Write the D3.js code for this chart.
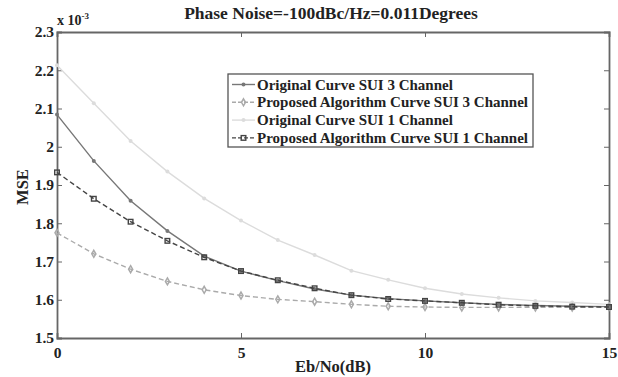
<!DOCTYPE html>
<html lang="en">
<head>
<meta charset="UTF-8">
<title>Phase Noise MSE</title>
<script src="https://cdn.jsdelivr.net/npm/d3@7"></script>
<style>
body { margin: 0; background: #fff; }
svg { display: block; font-family: "Liberation Serif", "DejaVu Serif", serif; font-weight: bold; }
</style>
</head>
<body>
<svg id="chart" width="618" height="377"></svg>
<script>
    // data (MSE in units of 1e-3)
    const ebNo = [0, 1, 2, 3, 4, 5, 6, 7, 8, 9, 10, 11, 12, 13, 14, 15];
    const origSui3 = [2.084, 1.963, 1.859, 1.780, 1.714, 1.675, 1.650, 1.628, 1.612, 1.603, 1.597, 1.592, 1.588, 1.585, 1.583, 1.582];
    const propSui3 = [1.775, 1.720, 1.680, 1.648, 1.626, 1.611, 1.601, 1.595, 1.588, 1.583, 1.581, 1.580, 1.580, 1.580, 1.580, 1.581];
    const origSui1 = [2.213, 2.114, 2.015, 1.935, 1.865, 1.807, 1.756, 1.717, 1.676, 1.652, 1.630, 1.615, 1.605, 1.597, 1.593, 1.588];
    const propSui1 = [1.933, 1.864, 1.804, 1.754, 1.711, 1.675, 1.651, 1.630, 1.612, 1.602, 1.597, 1.592, 1.587, 1.584, 1.582, 1.581];

    const seriesNames = [
        'Original Curve SUI 3 Channel',
        'Proposed Algorithm Curve SUI 3 Channel',
        'Original Curve SUI 1 Channel',
        'Proposed Algorithm Curve SUI 1 Channel'
    ];
    const xTicks = [0, 5, 10, 15];
    const yTicks = [1.5, 1.6, 1.7, 1.8, 1.9, 2, 2.1, 2.2, 2.3];

    const series = [
        { name: seriesNames[0], values: origSui3, color: '#777', dash: null, marker: 'dot' },
        { name: seriesNames[1], values: propSui3, color: '#aaa', dash: '5,3', marker: 'diamond' },
        { name: seriesNames[2], values: origSui1, color: '#dcdcdc', dash: null, marker: 'dot' },
        { name: seriesNames[3], values: propSui1, color: '#444', dash: '5,3', marker: 'square' }
    ];

    const margin = { left: 57, top: 32, right: 9, bottom: 39 };
    const width = 618, height = 377;
    const svg = d3.select('#chart');

    let x = d3.scaleLinear().domain([0, 15]).range([margin.left, width - margin.right]);
    let y = d3.scaleLinear().domain([1.5, 2.3]).range([height - margin.bottom, margin.top]);

    const axisColor = '#666';
    const textColor = '#222';

    // axes (ticks inward, box)
    let xAxis = svg.append('g')
        .attr('transform', 'translate(0,' + y(1.5) + ')')
        .call(d3.axisBottom(x).tickValues(xTicks).tickSize(-5).tickPadding(8).tickFormat(d3.format('d')));
    let xAxisTop = svg.append('g')
        .attr('transform', 'translate(0,' + y(2.3) + ')')
        .call(d3.axisTop(x).tickValues(xTicks).tickSize(-5).tickFormat(''));
    let yAxis = svg.append('g')
        .attr('transform', 'translate(' + x(0) + ',0)')
        .call(d3.axisLeft(y).tickValues(yTicks).tickSize(-5).tickPadding(3).tickFormat(d => d3.format('')(+d.toFixed(1))));
    let yAxisRight = svg.append('g')
        .attr('transform', 'translate(' + x(15) + ',0)')
        .call(d3.axisRight(y).tickValues(yTicks).tickSize(-5).tickFormat(''));

    [xAxis, xAxisTop, yAxis, yAxisRight].forEach(g => {
        g.select('.domain').attr('stroke', axisColor).attr('stroke-width', 1.8);
        g.selectAll('.tick line').attr('stroke', axisColor).attr('stroke-width', 1);
        g.selectAll('.tick text').attr('fill', textColor).attr('font-size', 15.5)
            .attr('font-family', '"Liberation Serif", serif').attr('font-weight', 'bold');
    });
    xAxis.selectAll('.tick text').attr('dy', '0.8em');

    // lines
    const line = d3.line().x((d, i) => x(ebNo[i])).y(d => y(d)).curve(d3.curveLinear);

    const drawMarker = (g, type, cx, cy, color) => {
        if (type === 'dot') {
            g.append('circle').attr('cx', cx).attr('cy', cy).attr('r', 2).attr('fill', color);
        } else if (type === 'diamond') {
            g.append('path')
                .attr('d', d3.symbol().type(d3.symbolDiamond).size(14)())
                .attr('transform', 'translate(' + cx + ',' + cy + ')')
                .attr('fill', 'none').attr('stroke', color).attr('stroke-width', 1.5);
        } else {
            g.append('rect').attr('x', cx - 2.3).attr('y', cy - 2.3).attr('width', 4.6).attr('height', 4.6)
                .attr('fill', 'none').attr('stroke', color).attr('stroke-width', 1.4);
        }
    };

    // draw lightest first
    [2, 1, 0, 3].forEach(k => {
        const s = series[k];
        const g = svg.append('g');
        g.append('path')
            .attr('d', line(s.values))
            .attr('fill', 'none')
            .attr('stroke', s.color)
            .attr('stroke-width', 1.4)
            .attr('stroke-dasharray', s.dash);
        s.values.forEach((v, i) => drawMarker(g, s.marker, x(ebNo[i]), y(v), s.color));
    });

    // exponent label
    svg.append('text').attr('x', 57).attr('y', 25).attr('font-size', 14).attr('fill', textColor)
        .text('x 10')
        .append('tspan').attr('font-size', 9).attr('dy', -6).text('-3');

    // title
    svg.append('text').attr('x', 331).attr('y', 19).attr('text-anchor', 'middle')
        .attr('font-size', 17.5).attr('fill', textColor)
        .text('Phase Noise=-100dBc/Hz=0.011Degrees');

    // axis labels
    svg.append('text').attr('x', 333).attr('y', 372).attr('text-anchor', 'middle')
        .attr('font-size', 16.5).attr('fill', textColor).text('Eb/No(dB)');
    svg.append('text').attr('transform', 'translate(28,187) rotate(-90)').attr('text-anchor', 'middle')
        .attr('font-size', 16.5).attr('fill', textColor).text('MSE');

    // legend
    const legend = svg.append('g').attr('transform', 'translate(228,74)');
    legend.append('rect').attr('width', 305).attr('height', 73)
        .attr('fill', '#fff').attr('stroke', '#555').attr('stroke-width', 1.3);
    series.forEach((s, i) => {
        const ly = 10.5 + i * 17.8;
        legend.append('line').attr('x1', 4).attr('x2', 27).attr('y1', ly).attr('y2', ly)
            .attr('stroke', s.color).attr('stroke-width', 1.4).attr('stroke-dasharray', s.dash ? '4,2' : null);
        drawMarker(legend, s.marker, 15.5, ly, s.color);
        legend.append('text').attr('x', 29).attr('y', ly + 5).attr('font-size', 15).attr('fill', textColor)
            .text(s.name);
    });
</script>
</body>
</html>
